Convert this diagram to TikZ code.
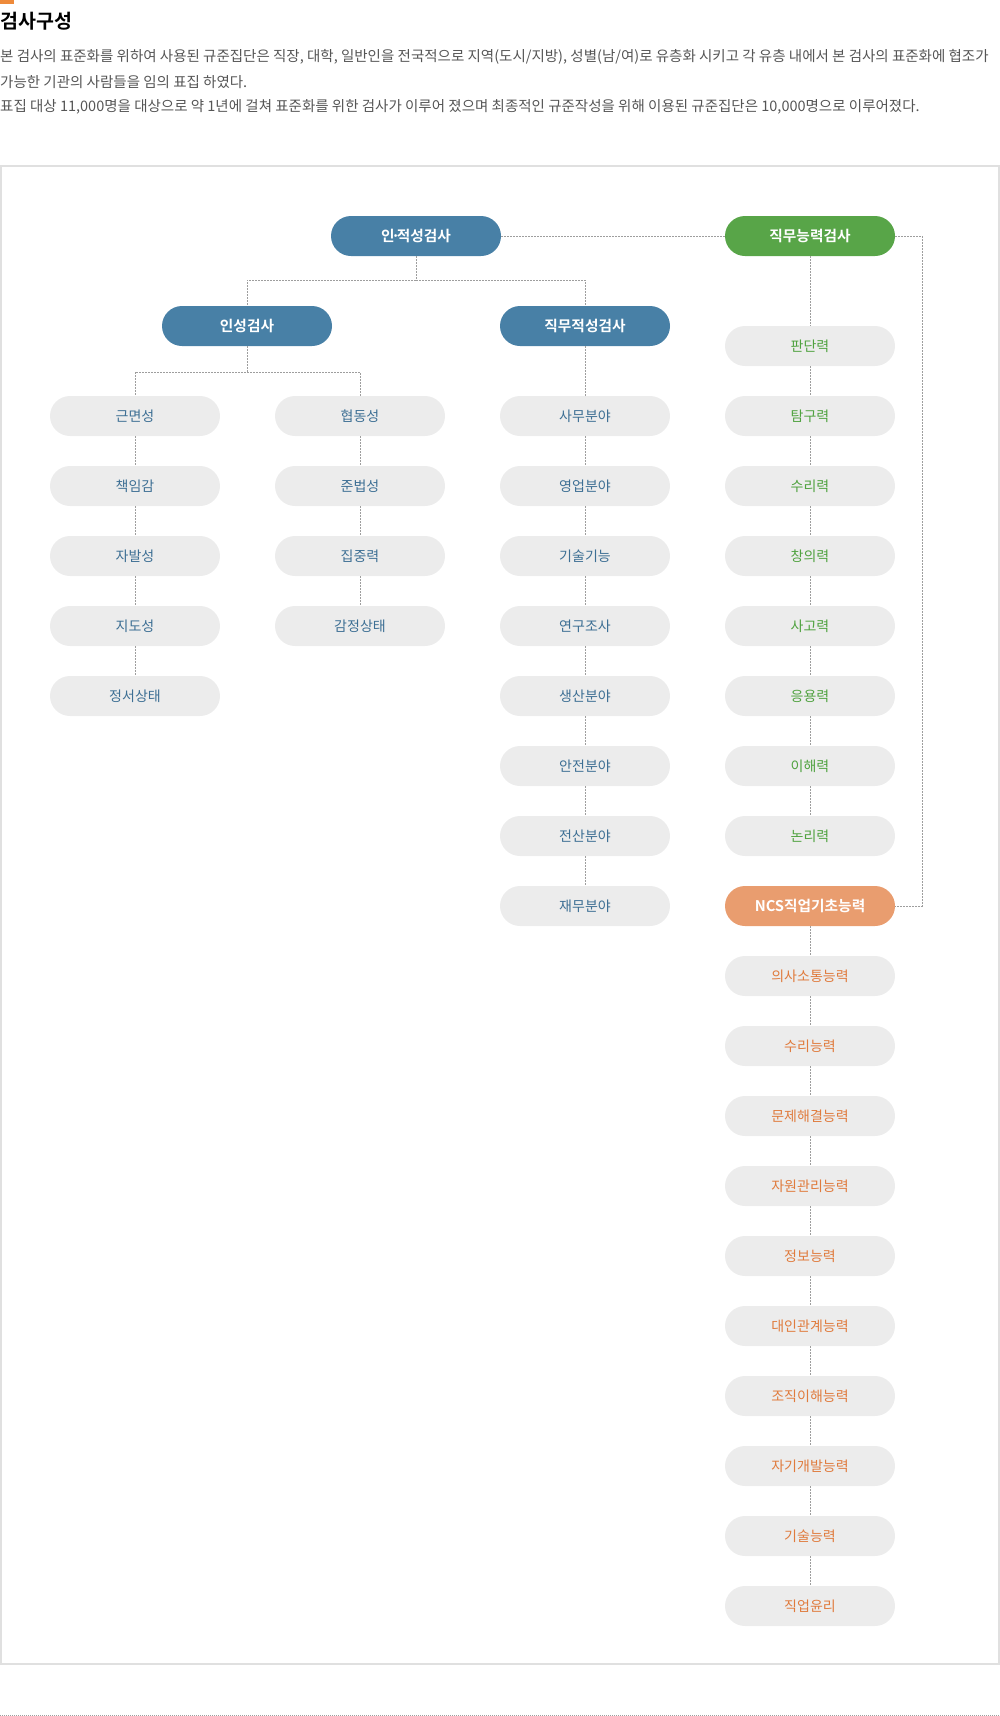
\documentclass[tikz,border=0pt]{standalone}
\usepackage{fontspec}
\setmainfont{Noto Sans CJK KR}[BoldFont={Noto Sans CJK KR Bold}]
\usetikzlibrary{positioning}
\definecolor{hblue}{HTML}{4880A6}
\definecolor{hgreen}{HTML}{58A548}
\definecolor{horange}{HTML}{E99D6F}
\definecolor{tblue}{HTML}{3D6F94}
\definecolor{tgreen}{HTML}{4FA23F}
\definecolor{torange}{HTML}{E07B3D}
\definecolor{ngray}{HTML}{ECECEC}
\definecolor{lgray}{HTML}{9E9E9E}
\definecolor{fgray}{HTML}{E0E0E0}
\definecolor{barorange}{HTML}{EE8A3A}
\definecolor{bodytext}{HTML}{555555}
\newcommand{\bodyfont}{\fontsize{14.5}{16}\selectfont}

\begin{document}
\begin{tikzpicture}[x=1pt,y=-1pt]
  \tikzstyle{pill} = [rectangle, rounded corners=20pt, minimum width=170pt, minimum height=40pt, inner sep=0pt]
  \tikzstyle{hnode} = [pill, text=white, font=\fontsize{14.7}{16}\selectfont\bfseries]
  \tikzstyle{snode} = [pill, fill=ngray, font=\fontsize{14}{15}\selectfont]
  \tikzstyle{tline} = [anchor=west, inner sep=0pt, text=bodytext, font=\bodyfont]
  \tikzstyle{dline} = [lgray, line width=1pt, dash pattern=on 1.5pt off 1.5pt]

  \useasboundingbox (0,0) rectangle (1000,1716);

  % heading and text
  \fill[barorange] (0,0) rectangle (14,4);
  \node[anchor=west, inner sep=0pt, font=\fontsize{19.5}{21}\selectfont\bfseries] (title) at (0,21) {검사구성};
  \node[tline] (l1) at (0,57) {본 검사의 표준화를 위하여 사용된 규준집단은 직장, 대학, 일반인을 전국적으로 지역(도시/지방), 성별(남/여)로 유층화 시키고 각 유층 내에서 본 검사의 표준화에 협조가};
  \node[tline] (l2) at (0,82) {가능한 기관의 사람들을 임의 표집 하였다.};
  \node[tline] (l3) at (0,107) {표집 대상 11,000명을 대상으로 약 1년에 걸쳐 표준화를 위한 검사가 이루어 졌으며 최종적인 규준작성을 위해 이용된 규준집단은 10,000명으로 이루어졌다.};

  % frame
  \draw[fgray, line width=1.5pt] (1,166) rectangle (999,1664);
  \draw[lgray, line width=0.8pt, dash pattern=on 1pt off 1pt] (0,1715) -- (1000,1715);

  % top level
  \node[hnode, fill=hblue] (ajs) at (416,236) {인\kern-0.22em·\kern-0.22em적성검사};
  \node[hnode, fill=hgreen] (jn) at (810,236) {직무능력검사};
  \node[hnode, fill=hblue] (ins) at (247,326) {인성검사};
  \node[hnode, fill=hblue] (jjs) at (585,326) {직무적성검사};
  \node[hnode, fill=horange] (ncs) at (810,906) {NCS직업기초능력};

  % personality
  \node[snode, text=tblue] (p1) at (135,416) {근면성};
  \node[snode, text=tblue] (p2) at (135,486) {책임감};
  \node[snode, text=tblue] (p3) at (135,556) {자발성};
  \node[snode, text=tblue] (p4) at (135,626) {지도성};
  \node[snode, text=tblue] (p5) at (135,696) {정서상태};
  \node[snode, text=tblue] (q1) at (360,416) {협동성};
  \node[snode, text=tblue] (q2) at (360,486) {준법성};
  \node[snode, text=tblue] (q3) at (360,556) {집중력};
  \node[snode, text=tblue] (q4) at (360,626) {감정상태};

  % job aptitude
  \node[snode, text=tblue] (a1) at (585,416) {사무분야};
  \node[snode, text=tblue] (a2) at (585,486) {영업분야};
  \node[snode, text=tblue] (a3) at (585,556) {기술기능};
  \node[snode, text=tblue] (a4) at (585,626) {연구조사};
  \node[snode, text=tblue] (a5) at (585,696) {생산분야};
  \node[snode, text=tblue] (a6) at (585,766) {안전분야};
  \node[snode, text=tblue] (a7) at (585,836) {전산분야};
  \node[snode, text=tblue] (a8) at (585,906) {재무분야};

  % job ability
  \node[snode, text=tgreen] (b1) at (810,346) {판단력};
  \node[snode, text=tgreen] (b2) at (810,416) {탐구력};
  \node[snode, text=tgreen] (b3) at (810,486) {수리력};
  \node[snode, text=tgreen] (b4) at (810,556) {창의력};
  \node[snode, text=tgreen] (b5) at (810,626) {사고력};
  \node[snode, text=tgreen] (b6) at (810,696) {응용력};
  \node[snode, text=tgreen] (b7) at (810,766) {이해력};
  \node[snode, text=tgreen] (b8) at (810,836) {논리력};

  % NCS
  \node[snode, text=torange] (n1) at (810,976) {의사소통능력};
  \node[snode, text=torange] (n2) at (810,1046) {수리능력};
  \node[snode, text=torange] (n3) at (810,1116) {문제해결능력};
  \node[snode, text=torange] (n4) at (810,1186) {자원관리능력};
  \node[snode, text=torange] (n5) at (810,1256) {정보능력};
  \node[snode, text=torange] (n6) at (810,1326) {대인관계능력};
  \node[snode, text=torange] (n7) at (810,1396) {조직이해능력};
  \node[snode, text=torange] (n8) at (810,1466) {자기개발능력};
  \node[snode, text=torange] (n9) at (810,1536) {기술능력};
  \node[snode, text=torange] (n10) at (810,1606) {직업윤리};

  % connectors
  \coordinate (t1) at (416,280);
  \coordinate (t2) at (247,372);
  \coordinate (r1) at (922,236);
  \draw[dline] (ajs) -- (jn);
  \draw[dline] (ajs) -- (t1) -| (ins.north);
  \draw[dline] (t1) -| (jjs.north);
  \draw[dline] (ins) -- (t2) -| (p1.north);
  \draw[dline] (t2) -| (q1.north);
  \draw[dline] (jn.east) -- (r1) |- (ncs.east);

  \draw[dline] (p1) -- (p2) (p2) -- (p3) (p3) -- (p4) (p4) -- (p5);
  \draw[dline] (q1) -- (q2) (q2) -- (q3) (q3) -- (q4);
  \draw[dline] (jjs) -- (a1) (a1) -- (a2) (a2) -- (a3) (a3) -- (a4)
    (a4) -- (a5) (a5) -- (a6) (a6) -- (a7) (a7) -- (a8);
  \draw[dline] (jn) -- (b1) (b1) -- (b2) (b2) -- (b3) (b3) -- (b4)
    (b4) -- (b5) (b5) -- (b6) (b6) -- (b7) (b7) -- (b8);
  \draw[dline] (ncs) -- (n1) (n1) -- (n2) (n2) -- (n3) (n3) -- (n4) (n4) -- (n5)
    (n5) -- (n6) (n6) -- (n7) (n7) -- (n8) (n8) -- (n9) (n9) -- (n10);
\end{tikzpicture}
\end{document}
